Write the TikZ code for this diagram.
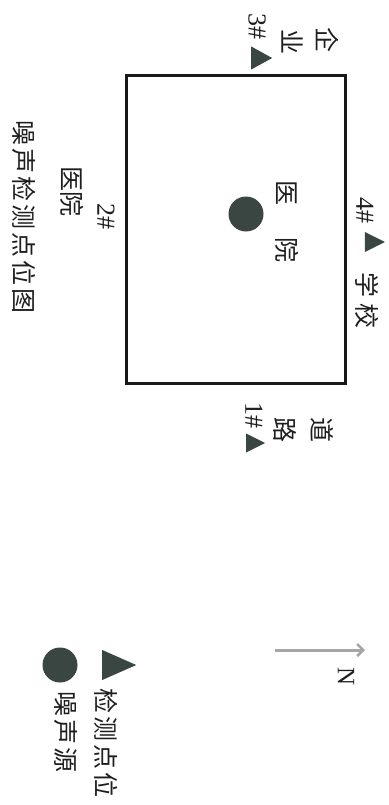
\documentclass[tikz,border=0pt]{standalone}
\usepackage{fontspec}
\setmainfont{Liberation Serif}
\newfontfamily\cjk{Noto Sans CJK SC}
\usetikzlibrary{shapes.geometric,arrows.meta}
\definecolor{markfill}{RGB}{58,70,65}
\definecolor{inkc}{RGB}{30,30,30}
\newcommand{\ks}{\kern3pt}
\tikzset{
  cjktext/.style={inner sep=0pt, rotate=-90, text=inkc, font=\cjk\fontsize{25}{25}\selectfont},
  numtext/.style={inner sep=0pt, rotate=-90, text=inkc, font=\fontsize{26}{26}\selectfont},
  marktri/.style={isosceles triangle, isosceles triangle stretches, fill=markfill, draw=none, inner sep=0pt},
  markdot/.style={circle, fill=markfill, draw=none, inner sep=0pt},
  sitebox/.style={rectangle, draw=black!90, line width=3pt, inner sep=0pt},
  northarrow/.style={draw=black!35, line width=3pt, -{Straight Barb[length=6pt,width=12pt,line width=2.5pt]}}
}
\begin{document}
\begin{tikzpicture}[x=1pt,y=-1pt]
\useasboundingbox (0,0) rectangle (388,805);
\fill[white] (0,0) rectangle (388,805);

% site
\node[sitebox, minimum width=219pt, minimum height=307pt] (site) at (235.5,229.5) {};
\node[markdot, minimum size=35pt] (src) at (246,214) {};
\node[cjktext] (yi) at (287,193) {医};
\node[cjktext] (yuan) at (287,250) {院};

% point 4 - school
\node[numtext] (p4) at (365,210) {4\#};
\node[marktri, minimum width=20pt, minimum height=20pt] (t4) at (371,242) {};
\node[cjktext] (school) at (367,300) {学\kern6pt 校};

% point 3 - enterprise
\node[numtext] (p3) at (257,27) {3\#};
\node[marktri, minimum width=23pt, minimum height=21pt] (t3) at (258,58) {};
\node[cjktext] (qi) at (327,40) {企};
\node[cjktext] (ye) at (292,42) {业};

% point 1 - road
\node[numtext] (p1) at (254,415) {1\#};
\node[marktri, minimum width=19pt, minimum height=19pt] (t1) at (252,443) {};
\node[cjktext] (lu) at (285,430) {路};
\node[cjktext] (dao) at (322,430) {道};

% point 2 - hospital
\node[numtext] (p2) at (106,217) {2\#};
\node[cjktext] (hosp) at (72,192) {医院};

% title
\node[cjktext] (title) at (24,217) {噪\ks 声\ks 检\ks 测\ks 点\ks 位\ks 图};

% north arrow
\coordinate (ntail) at (275,650);
\coordinate (nhead) at (365,650);
\draw[northarrow] (ntail) -- (nhead);
\node[numtext, font=\fontsize{25}{25}\selectfont] (north) at (346,677) {N};

% legend
\node[marktri, minimum width=30pt, minimum height=34pt] (legtri) at (112,665) {};
\node[cjktext] (legtritext) at (106,743) {检\ks 测\ks 点\ks 位};
\node[markdot, minimum size=35pt] (legdot) at (60,665) {};
\node[cjktext] (legdottext) at (66,732) {噪\ks 声\ks 源};
\end{tikzpicture}
\end{document}
